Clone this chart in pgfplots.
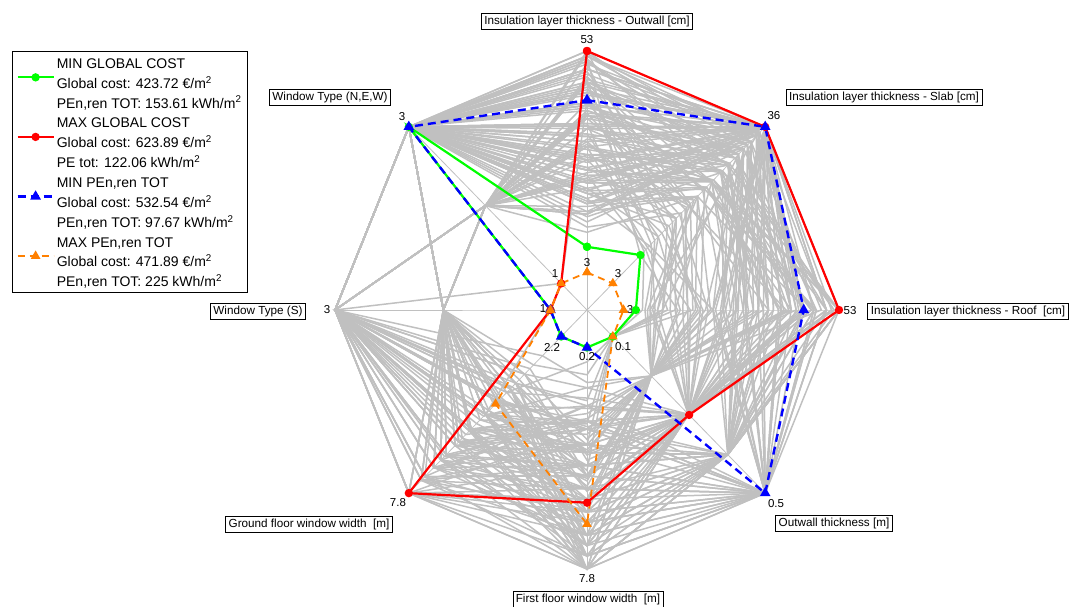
\documentclass[border=0pt]{standalone}
\usepackage{fontspec}
\setmainfont{Liberation Sans}
\usepackage{pgfplots}
\pgfplotsset{compat=1.18}

\definecolor{grayln}{RGB}{192,192,192}
\definecolor{mgreen}{RGB}{0,255,0}
\definecolor{mred}{RGB}{255,0,0}
\definecolor{mblue}{RGB}{0,0,255}
\definecolor{morange}{RGB}{255,128,0}

\pgfplotsset{
  grayline/.style={color=grayln, line width=1.5pt, forget plot, data cs=polar},
  spoke/.style={color=grayln, line width=0.8pt, forget plot, data cs=polar},
  greenln/.style={color=mgreen, line width=2.2pt, mark=*, mark size=3pt},
  redln/.style={color=mred, line width=2.2pt, mark=*, mark size=3pt},
  blueln/.style={color=mblue, line width=2.4pt, dash pattern=on 8pt off 5pt, mark=triangle*, mark size=3.8pt, mark options={solid}},
  orangeln/.style={color=morange, line width=1.8pt, dash pattern=on 7pt off 5pt, mark=triangle*, mark size=3.8pt, mark options={solid}},
}

% one grey design: T(outwall ins.) S(slab) R(roof) O(outwall th.) B(first fl.) G(ground fl.) L(win S) W(win NEW)
\newcommand{\gpoly}[8]{\addplot[grayline] coordinates {(90,#1) (45,#2) (0,#3) (-45,#4) (-90,#5) (-135,#6) (180,#7) (135,#8) (90,#1)};}
\newcommand{\lab}[3]{\node[draw=black, line width=0.6pt, fill=white, inner xsep=3pt, inner ysep=2.5pt, font=\fontsize{11.7}{13}\selectfont] at (rel axis cs:{#1/1069},{1-#2/607}) {#3};}
\newcommand{\val}[3]{\node[inner sep=0pt, font=\fontsize{11.5}{13}\selectfont] at (rel axis cs:{#1/1069},{1-#2/607}) {#3};}

\begin{document}
\begin{tikzpicture}
\begin{axis}[
  scale only axis, width=1069pt, height=607pt,
  xmin=-2.3294, xmax=1.9127, ymin=-1.1467, ymax=1.1969,
  axis lines=none, clip=false,
  legend cell align=left,
  legend style={at={(0.01123,0.91598)}, anchor=north west, draw=black, line width=0.8pt,
    font=\fontsize{14}{16}\selectfont, inner xsep=4pt, inner ysep=1.2pt,
    column sep=0pt, row sep=0pt,
    nodes={inner xsep=2pt, inner ysep=0pt, text height=15.85pt, text depth=4pt}},
  legend image code/.code={\draw[mark repeat=2,mark phase=2,#1] plot coordinates {(0pt,5pt) (18pt,5pt) (36pt,5pt)};},
]

% spokes
\addplot[spoke] coordinates {(90,1) (0,0) (-90,1)};
\addplot[spoke] coordinates {(45,1) (0,0) (-135,1)};
\addplot[spoke] coordinates {(0,1) (0,0) (180,1)};
\addplot[spoke] coordinates {(135,1) (0,0) (-45,1)};

% grey designs
\gpoly{1.00}{1.00}{1.00}{1.00}{1.00}{1.00}{1.00}{1.00}
\gpoly{0.91}{0.95}{0.83}{0.79}{0.91}{0.82}{1.00}{1.00}
\gpoly{0.83}{1.00}{0.74}{0.57}{0.82}{0.66}{0.57}{1.00}
\gpoly{0.74}{0.88}{0.91}{1.00}{0.73}{0.57}{1.00}{0.57}
\gpoly{0.66}{0.79}{0.66}{0.36}{0.64}{0.49}{0.57}{0.57}
\gpoly{0.57}{1.00}{1.00}{0.79}{1.00}{0.91}{1.00}{1.00}
\gpoly{0.49}{0.70}{0.57}{0.57}{0.55}{0.40}{0.57}{1.00}
\gpoly{0.40}{0.62}{0.49}{0.36}{0.46}{0.74}{1.00}{0.57}
\gpoly{0.32}{0.53}{0.40}{0.57}{0.37}{0.57}{0.57}{1.00}
\gpoly{0.95}{0.97}{0.95}{1.00}{0.82}{1.00}{1.00}{0.57}
\gpoly{0.87}{0.83}{0.87}{0.79}{1.00}{0.66}{0.57}{1.00}
\gpoly{0.78}{0.92}{0.78}{0.57}{0.91}{0.82}{1.00}{1.00}
\gpoly{0.70}{1.00}{0.70}{0.36}{0.73}{1.00}{0.57}{0.57}
\gpoly{0.62}{0.75}{0.62}{1.00}{0.64}{0.74}{1.00}{1.00}
\gpoly{0.53}{0.88}{0.53}{0.79}{0.55}{0.57}{0.57}{0.57}
\gpoly{0.45}{0.66}{0.45}{0.57}{0.46}{0.49}{1.00}{1.00}
\gpoly{1.00}{0.83}{0.80}{0.36}{0.37}{0.40}{0.57}{1.00}
\gpoly{0.89}{1.00}{0.97}{0.57}{0.64}{0.91}{1.00}{0.57}
\gpoly{0.80}{0.70}{1.00}{0.79}{0.82}{0.82}{0.57}{1.00}
\gpoly{0.72}{0.97}{0.85}{1.00}{0.91}{0.66}{1.00}{1.00}
\gpoly{0.64}{0.57}{0.72}{0.57}{1.00}{0.57}{0.57}{0.57}
\gpoly{0.55}{0.92}{0.93}{0.36}{0.73}{1.00}{1.00}{1.00}
\gpoly{0.47}{0.79}{0.64}{0.79}{0.55}{0.74}{0.57}{1.00}
\gpoly{0.38}{1.00}{0.55}{1.00}{0.46}{0.49}{1.00}{0.57}
\gpoly{0.97}{0.75}{0.89}{0.57}{0.91}{0.40}{0.57}{1.00}
\gpoly{0.85}{0.88}{0.60}{0.79}{0.73}{1.00}{1.00}{1.00}
\gpoly{0.76}{1.00}{0.81}{0.36}{1.00}{0.82}{0.57}{0.57}
\gpoly{0.68}{0.83}{0.98}{0.57}{0.82}{0.57}{1.00}{1.00}
\gpoly{0.59}{0.70}{0.76}{1.00}{0.64}{0.91}{0.57}{1.00}
\gpoly{0.51}{0.95}{0.68}{0.79}{0.55}{0.66}{1.00}{0.57}
\gpoly{0.42}{0.62}{0.87}{0.57}{0.37}{0.82}{0.57}{1.00}
\gpoly{0.34}{0.88}{0.47}{0.36}{0.91}{0.74}{1.00}{1.00}
\gpoly{0.93}{1.00}{0.74}{0.79}{0.46}{0.57}{0.145}{1.00}
\gpoly{0.81}{0.66}{0.91}{1.00}{0.82}{0.40}{1.00}{0.145}
\gpoly{0.72}{0.97}{0.57}{0.57}{1.00}{1.00}{0.57}{1.00}
\gpoly{0.60}{0.79}{1.00}{0.79}{0.73}{0.66}{1.00}{0.57}
\gpoly{0.49}{1.00}{0.83}{0.36}{0.64}{0.82}{0.57}{1.00}
\gpoly{0.36}{0.75}{0.70}{1.00}{0.82}{0.91}{1.00}{1.00}
\gpoly{0.99}{0.92}{0.62}{0.57}{0.55}{0.74}{0.57}{0.57}
\gpoly{0.88}{0.57}{0.79}{0.36}{0.91}{0.49}{1.00}{1.00}
\gpoly{0.77}{0.83}{0.95}{0.79}{1.00}{0.57}{0.57}{1.00}
\gpoly{0.65}{1.00}{0.51}{1.00}{0.46}{1.00}{1.00}{0.57}
\gpoly{0.54}{0.70}{0.89}{0.57}{0.73}{0.82}{0.57}{1.00}
\gpoly{0.43}{0.92}{0.66}{0.79}{0.82}{0.66}{1.00}{1.00}
\gpoly{0.30}{0.62}{0.43}{0.36}{0.64}{0.40}{0.57}{0.57}
\gpoly{0.96}{0.79}{0.76}{1.00}{0.37}{0.91}{1.00}{1.00}
\gpoly{0.84}{1.00}{0.85}{0.57}{0.91}{0.74}{0.57}{1.00}
\gpoly{0.70}{0.88}{0.58}{0.79}{0.55}{0.57}{1.00}{0.57}
\gpoly{0.60}{0.85}{0.30}{0.145}{0.25}{0.30}{0.57}{1.00}
\gpoly{0.80}{0.95}{0.25}{0.36}{0.30}{0.35}{1.00}{1.00}
\gpoly{0.90}{0.70}{0.35}{0.145}{0.20}{0.45}{0.57}{0.57}
\gpoly{0.45}{0.50}{0.28}{0.36}{0.28}{0.25}{1.00}{1.00}
\gpoly{0.98}{1.00}{0.95}{1.00}{0.95}{0.93}{1.00}{1.00}
\gpoly{0.93}{0.96}{0.90}{0.79}{0.87}{0.86}{0.57}{1.00}
\gpoly{0.88}{1.00}{0.86}{0.57}{0.78}{0.79}{1.00}{0.57}
\gpoly{0.84}{0.90}{0.81}{1.00}{0.69}{0.72}{0.57}{1.00}
\gpoly{0.79}{1.00}{0.77}{0.79}{0.60}{0.65}{1.00}{1.00}
\gpoly{0.75}{0.85}{0.72}{0.57}{0.52}{0.57}{0.57}{0.57}
\gpoly{0.71}{1.00}{0.68}{1.00}{0.43}{0.50}{1.00}{1.00}
\gpoly{0.67}{0.80}{0.63}{0.79}{1.00}{0.43}{0.57}{1.00}
\gpoly{0.63}{1.00}{0.59}{0.57}{0.95}{1.00}{1.00}{0.57}
\gpoly{0.58}{0.76}{0.54}{1.00}{0.87}{0.93}{0.57}{1.00}
\gpoly{0.54}{1.00}{0.50}{0.79}{0.78}{0.86}{1.00}{1.00}
\gpoly{0.50}{0.71}{1.00}{0.57}{0.69}{0.79}{0.57}{0.57}
\gpoly{0.46}{1.00}{0.95}{1.00}{0.60}{0.72}{1.00}{1.00}
\gpoly{0.41}{0.67}{0.90}{0.79}{0.52}{0.65}{0.57}{1.00}
\gpoly{0.37}{1.00}{0.86}{0.57}{0.43}{0.57}{1.00}{0.57}
\gpoly{0.98}{0.96}{0.81}{0.36}{1.00}{0.50}{0.57}{1.00}
\gpoly{0.93}{1.00}{0.77}{1.00}{0.95}{0.43}{1.00}{1.00}
\gpoly{0.88}{0.90}{0.72}{0.79}{0.87}{1.00}{0.57}{0.57}
\gpoly{0.84}{1.00}{0.68}{0.57}{0.78}{0.93}{1.00}{1.00}
\gpoly{0.79}{0.85}{0.63}{1.00}{0.69}{0.86}{0.57}{1.00}
\gpoly{0.75}{1.00}{0.59}{0.79}{0.60}{0.79}{1.00}{0.57}
\gpoly{0.71}{0.80}{0.54}{0.36}{0.52}{0.72}{0.57}{1.00}
\gpoly{0.67}{1.00}{0.50}{1.00}{0.43}{0.65}{1.00}{1.00}
\gpoly{0.63}{0.76}{1.00}{0.79}{1.00}{0.57}{0.57}{0.57}
\gpoly{0.58}{1.00}{0.95}{0.57}{0.95}{0.50}{1.00}{1.00}
\gpoly{0.54}{0.71}{0.90}{1.00}{0.87}{0.43}{0.57}{1.00}
\gpoly{0.50}{1.00}{0.86}{0.79}{0.78}{1.00}{1.00}{0.57}
\gpoly{0.46}{0.67}{0.81}{0.57}{0.69}{0.93}{0.57}{1.00}
\gpoly{0.41}{1.00}{0.77}{1.00}{0.60}{0.86}{1.00}{1.00}
\gpoly{0.37}{0.96}{0.72}{0.79}{0.52}{0.79}{0.57}{0.57}
\gpoly{0.98}{0.90}{0.68}{0.57}{0.43}{0.72}{1.00}{1.00}
\gpoly{0.93}{1.00}{0.63}{1.00}{1.00}{0.65}{0.57}{1.00}
\gpoly{0.88}{0.85}{0.59}{0.79}{0.95}{0.57}{1.00}{0.57}
\gpoly{0.84}{1.00}{0.54}{0.36}{0.87}{0.50}{0.57}{1.00}
\gpoly{0.79}{0.80}{0.50}{1.00}{0.78}{0.43}{1.00}{1.00}
\gpoly{0.75}{1.00}{1.00}{0.79}{0.69}{1.00}{0.57}{0.57}
\gpoly{0.71}{0.76}{0.95}{0.57}{0.60}{0.93}{1.00}{1.00}
\gpoly{0.67}{1.00}{0.90}{1.00}{0.52}{0.86}{0.57}{1.00}
\gpoly{0.63}{0.71}{0.86}{0.79}{0.43}{0.79}{1.00}{0.57}
\gpoly{0.58}{1.00}{0.81}{0.57}{1.00}{0.72}{0.57}{1.00}
\gpoly{0.54}{0.67}{0.77}{1.00}{0.95}{0.65}{1.00}{1.00}
\gpoly{0.50}{0.96}{0.72}{0.79}{0.87}{0.57}{0.57}{0.57}
\gpoly{0.46}{1.00}{0.68}{0.36}{0.78}{0.50}{1.00}{1.00}
\gpoly{0.41}{0.90}{0.63}{1.00}{0.69}{0.43}{0.57}{1.00}
\gpoly{0.37}{1.00}{0.59}{0.79}{0.60}{1.00}{1.00}{0.57}
\gpoly{0.96}{0.85}{0.54}{0.57}{0.52}{0.93}{0.57}{1.00}
\gpoly{0.86}{1.00}{0.50}{1.00}{0.43}{0.86}{1.00}{1.00}
\gpoly{0.77}{0.80}{0.98}{0.79}{0.95}{0.79}{0.57}{0.57}
\gpoly{0.65}{1.00}{0.84}{0.57}{0.87}{0.72}{1.00}{1.00}
\gpoly{0.52}{0.76}{0.70}{1.00}{0.78}{0.65}{0.57}{1.00}
\gpoly{0.95}{0.45}{0.30}{0.36}{0.55}{0.60}{1.00}{1.00}
\gpoly{0.88}{0.38}{0.25}{0.57}{0.45}{0.50}{0.57}{1.00}
\gpoly{0.80}{0.55}{0.40}{0.36}{0.65}{0.70}{1.00}{0.57}
\gpoly{0.72}{0.32}{0.22}{0.145}{0.35}{0.40}{0.57}{1.00}
\gpoly{0.65}{0.50}{0.35}{0.57}{0.60}{0.55}{1.00}{1.00}
\gpoly{0.58}{0.42}{0.45}{0.36}{0.40}{0.65}{0.57}{0.57}
\gpoly{0.50}{0.60}{0.28}{0.57}{0.70}{0.45}{1.00}{1.00}
\gpoly{0.43}{0.35}{0.50}{0.36}{0.50}{0.35}{0.57}{1.00}
\gpoly{1.00}{0.48}{0.33}{0.57}{0.30}{0.58}{1.00}{0.57}
\gpoly{0.92}{0.58}{0.42}{0.145}{0.62}{0.48}{0.57}{1.00}
\gpoly{0.84}{0.36}{0.27}{0.36}{0.42}{0.68}{1.00}{1.00}
\gpoly{0.76}{0.52}{0.48}{0.57}{0.56}{0.38}{0.57}{0.57}
\gpoly{0.68}{0.40}{0.23}{0.36}{0.66}{0.62}{1.00}{1.00}
\gpoly{0.60}{0.56}{0.38}{0.57}{0.38}{0.52}{0.57}{1.00}
\gpoly{0.52}{0.33}{0.32}{0.145}{0.52}{0.42}{1.00}{0.57}
\gpoly{0.45}{0.46}{0.44}{0.36}{0.46}{0.72}{0.57}{1.00}
\gpoly{0.38}{0.62}{0.26}{0.57}{0.58}{0.32}{1.00}{1.00}
\gpoly{0.97}{0.30}{0.36}{0.36}{0.68}{0.55}{0.57}{1.00}
\gpoly{0.86}{0.44}{0.46}{0.57}{0.34}{0.45}{1.00}{1.00}
\gpoly{0.74}{0.58}{0.24}{0.36}{0.48}{0.65}{0.57}{0.57}
\gpoly{0.63}{0.34}{0.41}{0.57}{0.64}{0.35}{1.00}{1.00}
\gpoly{0.55}{0.50}{0.30}{0.145}{0.44}{0.60}{0.57}{1.00}
\gpoly{0.47}{0.40}{0.37}{0.36}{0.54}{0.50}{1.00}{0.57}
\gpoly{0.90}{0.65}{0.55}{0.57}{0.60}{0.80}{1.00}{1.00}
\gpoly{0.70}{0.70}{0.60}{0.36}{0.75}{0.70}{0.57}{1.00}

% highlighted designs
\addplot[greenln, forget plot, data cs=polar] coordinates {(90,0.244) (45,0.30) (0,0.194) (-45,0.145) (-90,0.145) (-135,0.145) (180,0.145) (135,1.0) (90,0.244)};
\addplot[redln, forget plot, data cs=polar] coordinates {(90,1) (45,1) (0,1) (-45,0.573) (-90,0.744) (-135,1) (180,0.145) (135,0.145) (90,1)};
\addplot[blueln, forget plot, data cs=polar] coordinates {(90,0.81) (45,1) (0,0.86) (-45,1) (-90,0.145) (-135,0.145) (180,0.145) (135,1) (90,0.81)};
\addplot[orangeln, forget plot, data cs=polar] coordinates {(90,0.145) (45,0.145) (0,0.145) (-45,0.145) (-90,0.827) (-135,0.513) (180,0.145) (135,0.145) (90,0.145)};

% legend
\addlegendimage{empty legend}\addlegendentry{MIN GLOBAL COST}
\addlegendimage{greenln}\addlegendentry{Global cost: 423.72 €/m\textsuperscript{2}}
\addlegendimage{empty legend}\addlegendentry{PEn,ren TOT: 153.61 kWh/m\textsuperscript{2}}
\addlegendimage{empty legend}\addlegendentry{MAX GLOBAL COST}
\addlegendimage{redln}\addlegendentry{Global cost: 623.89 €/m\textsuperscript{2}}
\addlegendimage{empty legend}\addlegendentry{PE tot: 122.06 kWh/m\textsuperscript{2}}
\addlegendimage{empty legend}\addlegendentry{MIN PEn,ren TOT}
\addlegendimage{blueln}\addlegendentry{Global cost: 532.54 €/m\textsuperscript{2}}
\addlegendimage{empty legend}\addlegendentry{PEn,ren TOT: 97.67 kWh/m\textsuperscript{2}}
\addlegendimage{empty legend}\addlegendentry{MAX PEn,ren TOT}
\addlegendimage{orangeln}\addlegendentry{Global cost: 471.89 €/m\textsuperscript{2}}
\addlegendimage{empty legend}\addlegendentry{PEn,ren TOT: 225 kWh/m\textsuperscript{2}}

% axis names
\lab{587}{21}{Insulation layer thickness - Outwall [cm]}
\lab{884}{97}{Insulation layer thickness - Slab [cm]}
\lab{968}{311}{Insulation layer thickness - Roof\ \ [cm]}
\lab{834}{523}{Outwall thickness [m]}
\lab{588}{599}{First floor window width\ \ [m]}
\lab{309}{524}{Ground floor window width\ \ [m]}
\lab{258}{311}{Window Type (S)}
\lab{330}{97}{Window Type (N,E,W)}

% max values
\val{587}{40}{53}
\val{774}{116}{36}
\val{850}{311}{53}
\val{776}{504}{0.5}
\val{587}{579}{7.8}
\val{398}{503}{7.8}
\val{327}{310}{3}
\val{402}{117}{3}

% min values
\val{587}{263}{3}
\val{618}{274}{3}
\val{630}{310}{3}
\val{623}{347}{0.1}
\val{587}{357}{0.2}
\val{552}{347}{2.2}
\val{543}{309}{1}
\val{555}{274}{1}
\end{axis}
\pgfresetboundingbox
\path[use as bounding box] (current axis.south west) rectangle (current axis.north east);
\end{tikzpicture}
\end{document}
